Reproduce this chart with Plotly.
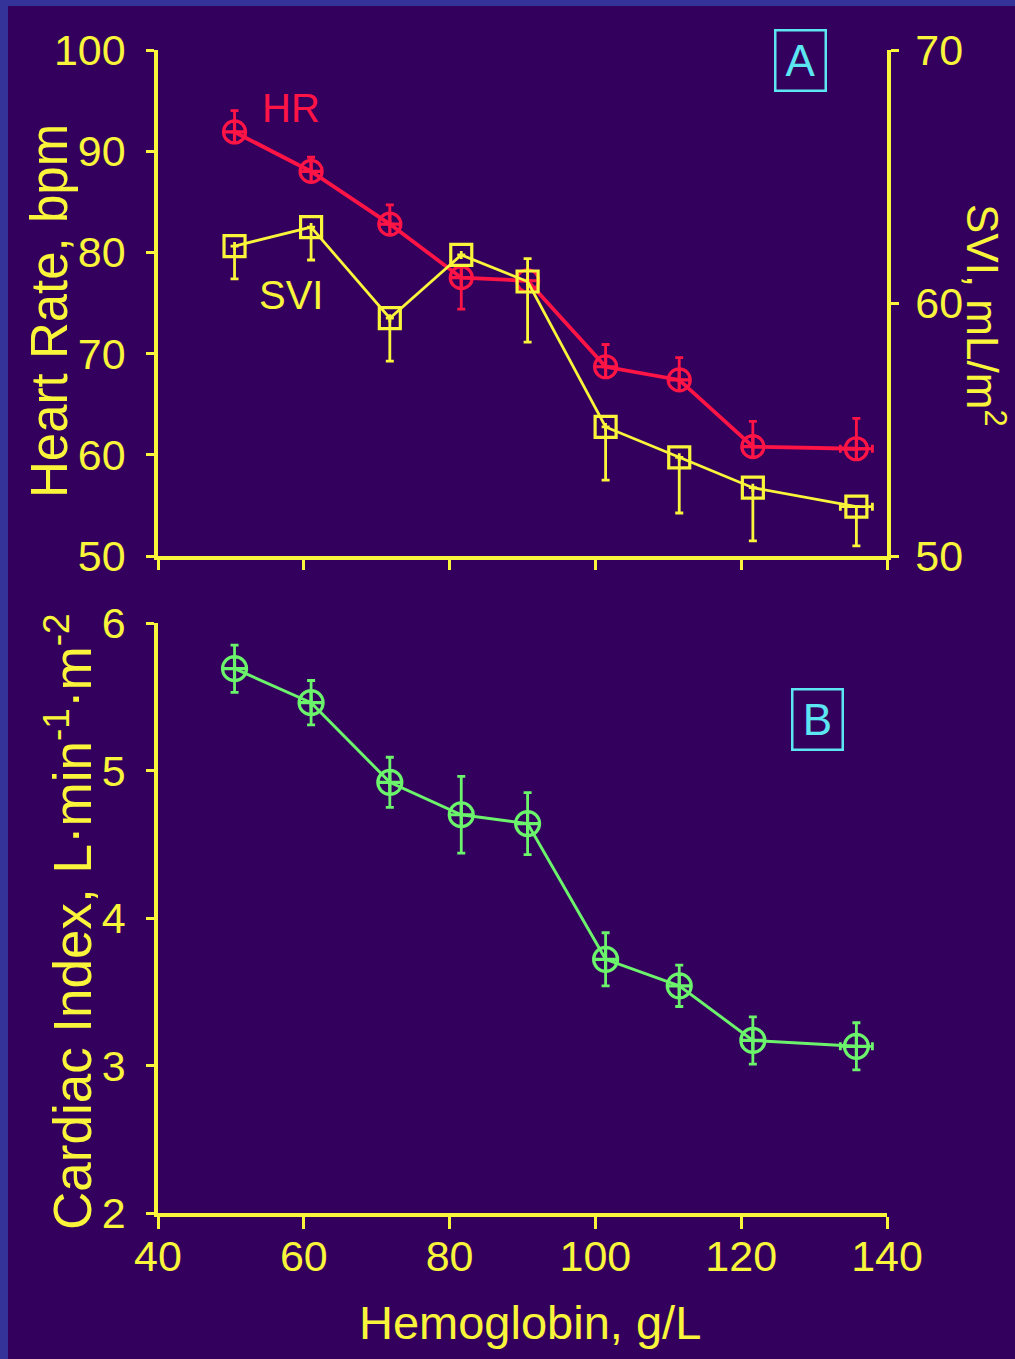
import plotly.graph_objects as go

# Hemoglobin levels (g/L) shared by both panels
hemoglobin = [50.5, 61.0, 71.8, 81.6, 90.7, 101.4, 111.5, 121.6, 135.8]

# Panel A: heart rate (bpm) with error bars
heart_rate = [91.9, 88.0, 82.8, 77.5, 77.2, 68.7, 67.4, 60.8, 60.6]
hr_err_plus = [2.1, 1.4, 1.9, 0.0, 0.0, 2.2, 2.2, 2.5, 3.0]
hr_err_minus = [0.0, 0.0, 0.0, 3.1, 0.0, 0.0, 0.0, 0.0, 0.0]

# Panel A: stroke volume index (mL/m2) with error bars
svi = [62.25, 63.0, 59.4, 61.9, 60.85, 55.1, 53.9, 52.7, 51.95]
svi_err_plus = [0.0, 0.0, 0.0, 0.0, 0.9, 0.0, 0.0, 0.0, 0.0]
svi_err_minus = [1.3, 1.3, 1.7, 0.0, 2.4, 2.1, 2.2, 2.1, 1.55]

# Panel B: cardiac index (L/min/m2) with error bars
cardiac_index = [5.69, 5.46, 4.92, 4.70, 4.64, 3.72, 3.54, 3.17, 3.13]
ci_err = [0.16, 0.15, 0.17, 0.26, 0.21, 0.18, 0.14, 0.16, 0.16]

# Spread of hemoglobin in the last group
hb_err = [0, 0, 0, 0, 0, 0, 0, 0, 2.2]

x_ticks = [40, 60, 80, 100, 120, 140]
hr_ticks = [50, 60, 70, 80, 90, 100]
svi_ticks = [50, 60, 70]
ci_ticks = [2, 3, 4, 5, 6]

BG = "#34005e"
FRAME = "#333399"
YELLOW = "#f8f53a"
RED = "#ff1446"
GREEN = "#6cf36c"
CYAN = "#5ce6f2"

W, H = 1015, 1359
ML, MR, MT, MB = 158, 128, 50, 146
PW, PH = W - ML - MR, H - MT - MB


def px(xp):
    return (xp - ML) / PW


def py(yp):
    return (H - MB - yp) / PH


FONT = "Liberation Sans, Arial, Helvetica, sans-serif"
TICK_FONT = dict(family=FONT, size=43, color=YELLOW)

fig = go.Figure()

fig.add_trace(go.Scatter(
    x=hemoglobin, y=heart_rate, xaxis="x", yaxis="y", mode="lines+markers",
    line=dict(color=RED, width=3.8),
    marker=dict(symbol="circle-cross-open", size=22, color=RED, line=dict(width=3.2, color=RED)),
    error_y=dict(type="data", symmetric=False, array=hr_err_plus, arrayminus=hr_err_minus,
                 color=RED, thickness=2.8, width=4),
    error_x=dict(type="data", array=hb_err, color=RED, thickness=2.8, width=4),
    showlegend=False,
))

fig.add_trace(go.Scatter(
    x=hemoglobin, y=svi, xaxis="x", yaxis="y2", mode="lines+markers",
    line=dict(color=YELLOW, width=2.8),
    marker=dict(symbol="square-open", size=21, color=YELLOW, line=dict(width=3.2, color=YELLOW)),
    error_y=dict(type="data", symmetric=False, array=svi_err_plus, arrayminus=svi_err_minus,
                 color=YELLOW, thickness=2.8, width=4),
    error_x=dict(type="data", array=hb_err, color=YELLOW, thickness=2.8, width=4),
    showlegend=False,
))

fig.add_trace(go.Scatter(
    x=hemoglobin, y=cardiac_index, xaxis="x2", yaxis="y3", mode="lines+markers",
    line=dict(color=GREEN, width=3),
    marker=dict(symbol="circle-cross-open", size=24, color=GREEN, line=dict(width=3.2, color=GREEN)),
    error_y=dict(type="data", array=ci_err, color=GREEN, thickness=2.8, width=4),
    error_x=dict(type="data", array=hb_err, color=GREEN, thickness=2.8, width=4),
    showlegend=False,
))

axis_common = dict(
    showgrid=False, zeroline=False, showline=True, linecolor=YELLOW, linewidth=3.5,
    ticks="outside", tickcolor=YELLOW, tickwidth=3, tickfont=TICK_FONT,
)

top_dom = [py(556), 1.0]
bot_dom = [0.0, py(623)]

fig.update_layout(
    width=W, height=H,
    margin=dict(l=ML, r=MR, t=MT, b=MB),
    paper_bgcolor=BG, plot_bgcolor=BG,
    xaxis=dict(domain=[0, 1], anchor="y", range=[40, 140], tickvals=x_ticks,
               showticklabels=False, ticklen=10, **axis_common),
    yaxis=dict(domain=top_dom, anchor="x", range=[50, 100], tickvals=hr_ticks,
               ticklen=8, ticklabelstandoff=12, **axis_common),
    yaxis2=dict(overlaying="y", side="right", anchor="x", range=[50, 70], tickvals=svi_ticks,
                ticklen=8, ticklabelstandoff=8, **axis_common),
    xaxis2=dict(domain=[0, 1], anchor="y3", range=[40, 140], tickvals=x_ticks,
                ticklen=12, ticklabelstandoff=-9, **axis_common),
    yaxis3=dict(domain=bot_dom, anchor="x2", range=[2, 6], tickvals=ci_ticks,
                ticklen=8, ticklabelstandoff=12, **axis_common),
)

annotations = [
    # axis titles
    dict(text="Heart Rate, bpm", x=px(50), y=py(311), textangle=-90,
         font=dict(family=FONT, size=51, color=YELLOW)),
    dict(text="SVI, mL/m<sup>2</sup>", x=px(986), y=py(315), textangle=90,
         font=dict(family=FONT, size=44, color=YELLOW)),
    dict(text="Cardiac Index, L\u00b7min<sup>-1</sup>\u00b7m<sup>-2</sup>", x=px(68), y=py(922), textangle=-90,
         font=dict(family=FONT, size=53, color=YELLOW)),
    dict(text="Hemoglobin, g/L", x=px(530), y=py(1322),
         font=dict(family=FONT, size=47, color=YELLOW)),
    # series labels
    dict(text="HR", x=px(291), y=py(108), font=dict(family=FONT, size=40, color=RED)),
    dict(text="SVI", x=px(291), y=py(295), font=dict(family=FONT, size=40, color=YELLOW)),
    # panel letters
    dict(text="A", x=px(800), y=py(60), font=dict(family=FONT, size=44, color=CYAN),
         bordercolor=CYAN, borderwidth=2.5, borderpad=3, width=42, height=52),
    dict(text="B", x=px(817), y=py(720), font=dict(family=FONT, size=44, color=CYAN),
         bordercolor=CYAN, borderwidth=2.5, borderpad=3, width=42, height=52),
]
for a in annotations:
    a.update(xref="paper", yref="paper", showarrow=False, xanchor="center", yanchor="middle")
fig.update_layout(annotations=annotations)

# frame strips along the left and top edges of the page
fig.update_layout(shapes=[
    dict(type="rect", xref="paper", yref="paper", x0=px(0), x1=px(8), y0=py(H), y1=py(0),
         fillcolor=FRAME, line=dict(width=0), layer="below"),
    dict(type="rect", xref="paper", yref="paper", x0=px(0), x1=px(W), y0=py(6), y1=py(0),
         fillcolor=FRAME, line=dict(width=0), layer="below"),
])

fig.write_html("out.html")
